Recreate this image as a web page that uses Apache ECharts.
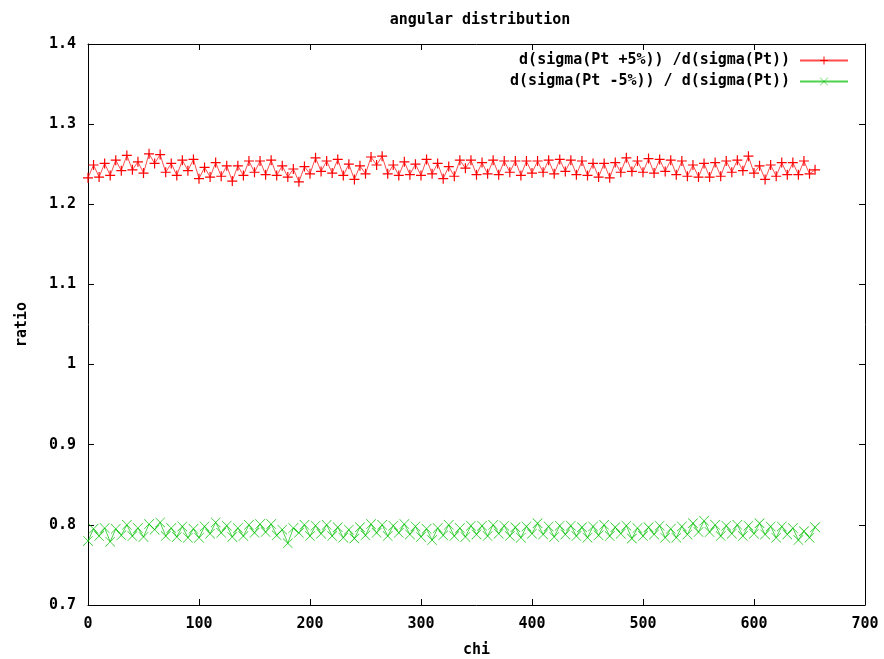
<!DOCTYPE html>
<html>
<head>
<meta charset="utf-8">
<script src="https://cdn.jsdelivr.net/npm/echarts@6/dist/echarts.min.js"></script>
<style>html,body{margin:0;padding:0;background:#fff}#c{width:884px;height:659px}</style>
</head>
<body>
<div id="c"></div>
<script>
const titleText = 'angular distribution';
const xLabel = 'chi';
const yLabel = 'ratio';
const seriesNames = ['d(sigma(Pt +5%)) /d(sigma(Pt))', 'd(sigma(Pt -5%)) / d(sigma(Pt))'];
const chiStart = 0;
const chiStep = 5;
const xTicks = [0, 100, 200, 300, 400, 500, 600, 700];
const yTicks = [0.7, 0.8, 0.9, 1.0, 1.1, 1.2, 1.3, 1.4];

const plusValues = [
1.233,1.249,1.234,1.251,1.236,1.255,1.242,1.261,1.243,1.253,
1.239,1.263,1.251,1.262,1.240,1.251,1.236,1.255,1.242,1.256,
1.232,1.246,1.234,1.252,1.235,1.248,1.229,1.248,1.236,1.254,
1.240,1.254,1.237,1.255,1.236,1.248,1.234,1.244,1.228,1.247,
1.238,1.258,1.241,1.254,1.239,1.256,1.236,1.250,1.231,1.248,
1.238,1.259,1.249,1.260,1.238,1.249,1.236,1.253,1.237,1.250,
1.236,1.256,1.238,1.251,1.232,1.247,1.235,1.255,1.245,1.255,
1.237,1.252,1.238,1.255,1.237,1.254,1.240,1.254,1.236,1.254,
1.239,1.254,1.240,1.255,1.238,1.256,1.241,1.255,1.237,1.254,
1.236,1.251,1.234,1.251,1.233,1.252,1.240,1.258,1.241,1.254,
1.240,1.257,1.239,1.256,1.241,1.255,1.237,1.254,1.235,1.249,
1.234,1.251,1.234,1.252,1.235,1.254,1.240,1.255,1.242,1.260,
1.239,1.248,1.231,1.249,1.235,1.252,1.237,1.252,1.237,1.254,
1.238,1.243
];
const minusValues = [
0.780,0.795,0.786,0.796,0.779,0.795,0.787,0.800,0.786,0.796,
0.785,0.801,0.794,0.803,0.786,0.796,0.785,0.798,0.784,0.795,
0.784,0.798,0.789,0.803,0.790,0.799,0.785,0.796,0.786,0.800,
0.790,0.801,0.791,0.801,0.787,0.794,0.777,0.796,0.790,0.800,
0.786,0.799,0.789,0.800,0.786,0.797,0.784,0.794,0.783,0.797,
0.787,0.801,0.790,0.800,0.786,0.799,0.790,0.801,0.788,0.798,
0.785,0.795,0.781,0.796,0.787,0.800,0.786,0.796,0.785,0.799,
0.788,0.799,0.786,0.800,0.789,0.799,0.786,0.797,0.784,0.798,
0.789,0.802,0.788,0.798,0.785,0.799,0.788,0.799,0.786,0.797,
0.784,0.798,0.787,0.800,0.786,0.797,0.789,0.799,0.783,0.796,
0.786,0.797,0.788,0.799,0.784,0.795,0.784,0.798,0.788,0.802,
0.791,0.805,0.791,0.800,0.786,0.799,0.789,0.800,0.786,0.799,
0.789,0.802,0.788,0.798,0.784,0.798,0.788,0.796,0.781,0.792,
0.784,0.797
];

const toPairs = vals => vals.map((v, i) => [chiStart + i * chiStep, v]);

const FONT = '"DejaVu Sans Mono", monospace';
const plusPath = 'path://M0,4.4H10V5.6H0ZM4.4,0H5.6V10H4.4Z';
const crossPath = 'path://M0.4,0L5,4.6L9.6,0L10,0.4L5.4,5L10,9.6L9.6,10L5,5.4L0.4,10L0,9.6L4.6,5L0,0.4Z';

const chart = echarts.init(document.getElementById('c'), null, {renderer: 'canvas'});
const axisCommon = {
  axisLine: {show: true, onZero: false, lineStyle: {color: '#000', width: 1}},
  splitLine: {show: false},
  axisTick: {show: true, inside: true, length: 6, lineStyle: {color: '#000'}},
  minorTick: {show: false}
};
chart.setOption({
  animation: false,
  backgroundColor: '#fff',
  title: {
    text: titleText, left: 475, top: 8, textAlign: 'center',
    textStyle: {fontFamily: FONT, fontWeight: 'bold', fontSize: 15, color: '#000'}
  },
  legend: {
    orient: 'vertical', right: 30, top: 48, align: 'right', itemGap: 6,
    itemWidth: 48, itemHeight: 10,
    textStyle: {fontFamily: FONT, fontWeight: 'bold', fontSize: 15, color: '#000', padding: [0, 5, 0, 0]},
    data: seriesNames
  },
  grid: {left: 88, right: 19, top: 44, bottom: 54, containLabel: false, outerBoundsMode: 'none'},
  xAxis: [
    Object.assign({}, axisCommon, {
      type: 'value', min: xTicks[0], max: xTicks[xTicks.length - 1], interval: 100,
      name: xLabel, nameLocation: 'middle', nameGap: 38,
      nameTextStyle: {fontFamily: FONT, fontWeight: 'bold', fontSize: 15, color: '#000'},
      axisLabel: {fontFamily: FONT, fontWeight: 'bold', fontSize: 15, color: '#000', margin: 12}
    }),
    Object.assign({}, axisCommon, {
      type: 'value', position: 'top', min: xTicks[0], max: xTicks[xTicks.length - 1], interval: 100,
      axisLabel: {show: false}
    })
  ],
  yAxis: [
    Object.assign({}, axisCommon, {
      type: 'value', min: yTicks[0], max: yTicks[yTicks.length - 1], interval: 0.1,
      name: yLabel, nameLocation: 'middle', nameGap: 58,
      nameTextStyle: {fontFamily: FONT, fontWeight: 'bold', fontSize: 15, color: '#000'},
      axisLabel: {fontFamily: FONT, fontWeight: 'bold', fontSize: 15, color: '#000', margin: 12,
        formatter: v => (Math.abs(v - 1) < 1e-9 ? '1' : v.toFixed(1))}
    }),
    Object.assign({}, axisCommon, {
      type: 'value', position: 'right', min: yTicks[0], max: yTicks[yTicks.length - 1], interval: 0.1,
      axisLabel: {show: false}
    })
  ],
  series: [
    {
      name: seriesNames[0], type: 'line', xAxisIndex: 0, yAxisIndex: 0,
      data: toPairs(plusValues),
      symbol: plusPath, symbolSize: 10, showAllSymbol: true,
      lineStyle: {color: 'rgba(255,0,0,0.7)', width: 1},
      itemStyle: {color: '#ff0000'}
    },
    {
      name: seriesNames[1], type: 'line', xAxisIndex: 0, yAxisIndex: 0,
      data: toPairs(minusValues),
      symbol: crossPath, symbolSize: 10, showAllSymbol: true,
      lineStyle: {color: 'rgba(0,192,0,0.7)', width: 1},
      itemStyle: {color: '#00c000'}
    }
  ]
});
</script>
</body>
</html>
